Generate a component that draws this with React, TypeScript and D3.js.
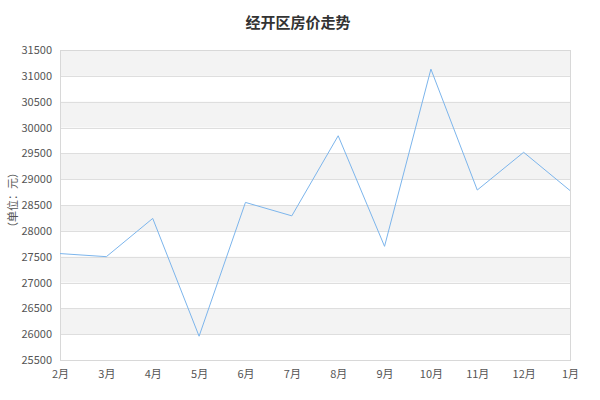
import * as d3 from 'd3'
import { useEffect, useRef } from 'react'

const months = ['2月', '3月', '4月', '5月', '6月', '7月', '8月', '9月', '10月', '11月', '12月', '1月']
const prices = [27560, 27500, 28240, 25960, 28550, 28290, 29840, 27700, 31130, 28790, 29520, 28780]
const yTicks = [25500, 26000, 26500, 27000, 27500, 28000, 28500, 29000, 29500, 30000, 30500, 31000, 31500]

const title = '经开区房价走势'
const yLabel = '（单位：元）'

export default function App(){
  const svgRef = useRef<SVGSVGElement|null>(null)
  const size = { width: 600, height: 400, margin: { top: 50, right: 30, bottom: 40, left: 60 } }

  useEffect(()=>{
    const svg = d3.select(svgRef.current)
    svg.selectAll('*').remove()

    const { width, height, margin } = size
    const innerW = width - margin.left - margin.right
    const innerH = height - margin.top - margin.bottom
    const font = '"Noto Sans CJK SC", "DejaVu Sans", sans-serif'

    const g = svg.append('g').attr('transform', `translate(${margin.left},${margin.top})`)

    const x = d3.scalePoint<string>().domain(months).range([0, innerW])
    const y = d3.scaleLinear().domain([25500, 31500]).range([innerH, 0])

    // alternating bands, grey from the top
    const bands = d3.pairs(yTicks.slice().reverse()).filter((_, i)=> i % 2 === 0)
    g.append('g').selectAll('rect')
      .data(bands)
      .join('rect')
      .attr('x', 0)
      .attr('width', innerW)
      .attr('y', (d: [number, number])=> y(d[0]))
      .attr('height', (d: [number, number])=> y(d[1]) - y(d[0]))
      .attr('fill', '#f3f3f3')

    // grid
    g.append('g')
      .attr('stroke', '#dedede')
      .selectAll('line')
      .data(yTicks)
      .join('line')
      .attr('x1', 0).attr('x2', innerW)
      .attr('y1', (d: number)=> Math.round(y(d)) + 0.5).attr('y2', (d: number)=> Math.round(y(d)) + 0.5)

    // frame
    g.append('rect')
      .attr('x', 0.5).attr('y', 0.5)
      .attr('width', innerW).attr('height', innerH)
      .attr('fill', 'none').attr('stroke', '#d8d8d8')

    // axes
    const yAxis = g.append('g').call(d3.axisLeft(y).tickValues(yTicks).tickSize(0).tickPadding(8).tickFormat(d3.format('d')))
    yAxis.select('.domain').remove()
    yAxis.selectAll('text').attr('fill', '#555').attr('font-size', 11).attr('font-family', font)

    const xAxis = g.append('g').attr('transform', `translate(0,${innerH})`).call(d3.axisBottom(x).tickSize(0).tickPadding(10))
    xAxis.select('.domain').remove()
    xAxis.selectAll('text').attr('fill', '#555').attr('font-size', 11).attr('font-family', font)

    // line
    const line = d3.line<number>()
      .x((_, i)=> x(months[i]) ?? 0)
      .y(d=> y(d))
    g.append('path')
      .datum(prices)
      .attr('d', line)
      .attr('fill', 'none')
      .attr('stroke', '#7cb5ec')
      .attr('stroke-width', 1)

    // labels
    svg.append('text')
      .attr('x', 298).attr('y', 28)
      .attr('text-anchor', 'middle')
      .attr('font-family', font)
      .attr('font-size', 15)
      .attr('font-weight', 'bold')
      .attr('fill', '#333')
      .text(title)

    svg.append('text')
      .attr('transform', `translate(17,${margin.top + innerH/2 - 5}) rotate(-90)`)
      .attr('text-anchor', 'middle')
      .attr('font-family', font)
      .attr('font-size', 11)
      .attr('fill', '#555')
      .text(yLabel)
  }, [])

  return (
    <svg ref={svgRef} width={size.width} height={size.height} style={{ position: 'absolute', left: 0, top: 0, background: '#fff' }}></svg>
  )
}
